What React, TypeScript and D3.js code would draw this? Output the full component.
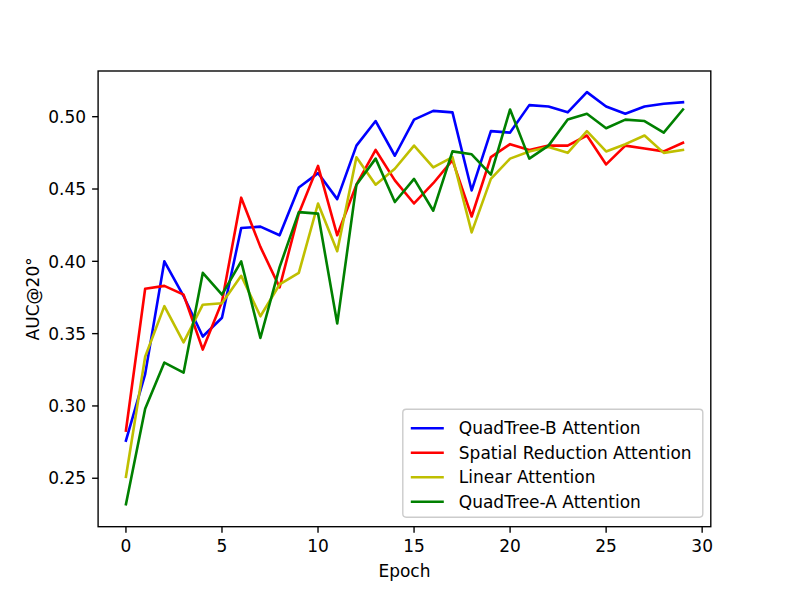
import * as d3 from "d3";

const epochs = d3.range(30);

const quadTreeB = [
  0.276, 0.322, 0.4, 0.376, 0.348, 0.361, 0.423, 0.424, 0.418, 0.451,
  0.461, 0.443, 0.48, 0.497, 0.473, 0.498, 0.504, 0.503, 0.449, 0.49,
  0.489, 0.508, 0.507, 0.503, 0.517, 0.507, 0.502, 0.507, 0.509, 0.51,
];
const spatialReduction = [
  0.283, 0.381, 0.383, 0.377, 0.339, 0.372, 0.444, 0.41, 0.382, 0.433,
  0.466, 0.418, 0.453, 0.477, 0.456, 0.44, 0.454, 0.47, 0.431, 0.472,
  0.481, 0.477, 0.48, 0.48, 0.487, 0.467, 0.48, 0.478, 0.476, 0.482,
];
const linear = [
  0.251, 0.334, 0.369, 0.344, 0.37, 0.371, 0.39, 0.362, 0.384, 0.392,
  0.44, 0.407, 0.472, 0.453, 0.464, 0.48, 0.465, 0.472, 0.42, 0.457,
  0.471, 0.476, 0.479, 0.475, 0.49, 0.476, 0.481, 0.487, 0.475, 0.477,
];
const quadTreeA = [
  0.232, 0.298, 0.33, 0.323, 0.392, 0.377, 0.4, 0.347, 0.396, 0.434,
  0.433, 0.357, 0.453, 0.471, 0.441, 0.457, 0.435, 0.476, 0.474, 0.46,
  0.505, 0.471, 0.48, 0.498, 0.502, 0.492, 0.498, 0.497, 0.489, 0.505,
];

const series = [
  { name: "QuadTree-B Attention", color: "#0000ff", values: quadTreeB },
  { name: "Spatial Reduction Attention", color: "#ff0000", values: spatialReduction },
  { name: "Linear Attention", color: "#bfbf00", values: linear },
  { name: "QuadTree-A Attention", color: "#008000", values: quadTreeA },
];

const xTicks = [0, 5, 10, 15, 20, 25, 30];
const yTicks = [0.25, 0.3, 0.35, 0.4, 0.45, 0.5];

const W = 789;
const H = 592;
const left = 98.1;
const right = 710.8;
const top = 71;
const bottom = 526.7;
const font = "DejaVu Sans, sans-serif";
const fs = 17;

export default function App() {
  const x = d3.scaleLinear().domain([-1.45, 30.45]).range([left, right]);
  const y = d3.scaleLinear().domain([0.2165, 0.5316]).range([bottom, top]);

  const line = d3
    .line<number>()
    .x((_, i) => x(epochs[i]))
    .y((d) => y(d));

  const legW = 300;
  const legRight = right - 8;
  const legBottom = bottom - 9.5;
  const pitch = 24.5;
  const legH = 108;
  const legX = legRight - legW;
  const legY = legBottom - legH;

  return (
    <svg
      width={W}
      height={H}
      style={{ position: "absolute", left: 0, top: 0, background: "#fff" }}
      fontFamily={font}
    >
      <rect width={W} height={H} fill="#fff" />
      <g>
        {series.map((s) => (
          <path
            key={s.name}
            d={line(s.values) || ""}
            fill="none"
            stroke={s.color}
            strokeWidth={2.6}
            strokeLinejoin="round"
            strokeLinecap="square"
          />
        ))}
      </g>
      <rect
        x={left}
        y={top}
        width={right - left}
        height={bottom - top}
        fill="none"
        stroke="#000"
        strokeWidth={1.37}
      />
      {xTicks.map((t) => (
        <g key={"x" + t}>
          <line x1={x(t)} x2={x(t)} y1={bottom} y2={bottom + 6} stroke="#000" strokeWidth={1.37} />
          <text x={x(t)} y={bottom + 25} fontSize={fs} textAnchor="middle">
            {t}
          </text>
        </g>
      ))}
      {yTicks.map((t) => (
        <g key={"y" + t}>
          <line x1={left - 6} x2={left} y1={y(t)} y2={y(t)} stroke="#000" strokeWidth={1.37} />
          <text x={left - 12} y={y(t) + 6.2} fontSize={fs} textAnchor="end">
            {d3.format(".2f")(t)}
          </text>
        </g>
      ))}
      <text x={(left + right) / 2} y={577} fontSize={fs} textAnchor="middle">
        Epoch
      </text>
      <text
        transform={`translate(39, ${(top + bottom) / 2}) rotate(-90)`}
        fontSize={fs}
        textAnchor="middle"
      >
        AUC@20°
      </text>
      <rect
        x={legX}
        y={legY}
        width={legW}
        height={legH}
        rx={3.4}
        fill="#fff"
        fillOpacity={0.8}
        stroke="#cccccc"
        strokeWidth={1.4}
      />
      {series.map((s, i) => {
        const cy = legY + 19 + i * pitch;
        return (
          <g key={"l" + s.name}>
            <line x1={legX + 8} x2={legX + 41} y1={cy} y2={cy} stroke={s.color} strokeWidth={2.6} />
            <text x={legX + 56} y={cy + 6.2} fontSize={fs}>
              {s.name}
            </text>
          </g>
        );
      })}
    </svg>
  );
}
